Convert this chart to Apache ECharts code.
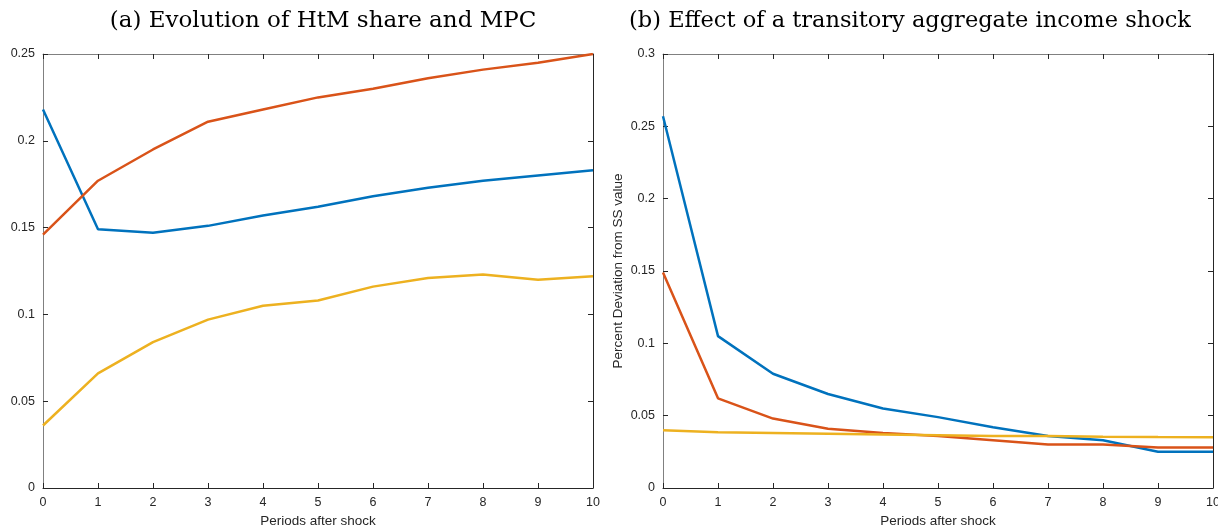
<!DOCTYPE html>
<html>
<head>
<meta charset="utf-8">
<script src="https://cdn.jsdelivr.net/npm/echarts@6/dist/echarts.min.js"></script>
<style>
  html, body { margin: 0; padding: 0; background: #fff; }
  #chart { width: 1218px; height: 527px; }
</style>
</head>
<body>
<div id="chart"></div>
<script>
// periods after the shock (x axis of both panels)
var periods = [0, 1, 2, 3, 4, 5, 6, 7, 8, 9, 10]

// (a) evolution of HtM share and MPC
var leftBlue = [0.218, 0.149, 0.147, 0.151, 0.157, 0.162, 0.168, 0.173, 0.177, 0.180, 0.183]
var leftOrange = [0.146, 0.177, 0.195, 0.211, 0.218, 0.225, 0.230, 0.236, 0.241, 0.245, 0.250]
var leftYellow = [0.036, 0.066, 0.084, 0.097, 0.105, 0.108, 0.116, 0.121, 0.123, 0.120, 0.122]

// (b) effect of a transitory aggregate income shock
var rightBlue = [0.257, 0.105, 0.079, 0.065, 0.055, 0.049, 0.042, 0.036, 0.033, 0.025, 0.025]
var rightOrange = [0.149, 0.062, 0.048, 0.041, 0.038, 0.036, 0.033, 0.030, 0.030, 0.028, 0.028]
var rightYellow = [0.040, 0.0385, 0.038, 0.0375, 0.037, 0.0365, 0.036, 0.036, 0.0355, 0.0352, 0.035]

var titles = ['(a) Evolution of HtM share and MPC', '(b) Effect of a transitory aggregate income shock']
var xName = 'Periods after shock'
var rightYName = 'Percent Deviation from SS value'

var colors = ['#0072BD', '#D95319', '#EDB120']
var axisColor = '#262626'
var labelFont = 'Liberation Sans'

function pairs(ys) {
  return periods.map(function(x, i) { return [x, ys[i]] })
}

function mainX(gridIndex) {
  return {
    type: 'value', gridIndex: gridIndex, min: 0, max: 10, interval: 1,
    name: xName, nameLocation: 'middle', nameGap: 24,
    nameTextStyle: { fontSize: 13.5, color: axisColor, fontFamily: labelFont },
    axisLine: { onZero: false, lineStyle: { color: axisColor, width: 1 } },
    axisTick: { inside: true, length: 5, lineStyle: { color: axisColor } },
    axisLabel: { fontSize: 12.5, color: axisColor, fontFamily: labelFont, margin: 8 },
    splitLine: { show: false }
  }
}

function topX(gridIndex) {
  return {
    type: 'value', gridIndex: gridIndex, min: 0, max: 10, interval: 1, position: 'top',
    axisLine: { onZero: false, lineStyle: { color: '#808080', width: 1 } },
    axisTick: { inside: true, length: 5, lineStyle: { color: axisColor } },
    axisLabel: { show: false },
    splitLine: { show: false }
  }
}

function mainY(gridIndex, max, name) {
  return {
    type: 'value', gridIndex: gridIndex, min: 0, max: max, interval: 0.05,
    name: name, nameLocation: 'middle', nameGap: 38,
    nameTextStyle: { fontSize: 13.5, color: axisColor, fontFamily: labelFont },
    axisLine: { show: true, onZero: false, lineStyle: { color: '#808080', width: 1 } },
    axisTick: { show: true, inside: true, length: 5, lineStyle: { color: axisColor } },
    axisLabel: { fontSize: 12.5, color: axisColor, fontFamily: labelFont, margin: 8 },
    splitLine: { show: false }
  }
}

function rightY(gridIndex, max) {
  return {
    type: 'value', gridIndex: gridIndex, min: 0, max: max, interval: 0.05, position: 'right',
    axisLine: { show: true, onZero: false, lineStyle: { color: axisColor, width: 1 } },
    axisTick: { show: true, inside: true, length: 5, lineStyle: { color: axisColor } },
    axisLabel: { show: false },
    splitLine: { show: false }
  }
}

function line(name, ys, xi, yi, color) {
  return {
    name: name, type: 'line', xAxisIndex: xi, yAxisIndex: yi,
    data: pairs(ys), showSymbol: false, symbol: 'none', animation: false,
    lineStyle: { color: color, width: 2.5 }
  }
}

var chart = echarts.init(document.getElementById('chart'), null, { renderer: 'canvas' })
chart.setOption({
  backgroundColor: '#fff',
  animation: false,
  title: [
    { text: titles[0], left: 318, top: 5, textAlign: 'center',
      textStyle: { fontFamily: 'DejaVu Serif', fontWeight: 'normal', fontSize: 23, color: '#000' } },
    { text: titles[1], left: 905, top: 5, textAlign: 'center',
      textStyle: { fontFamily: 'DejaVu Serif', fontWeight: 'normal', fontSize: 22.5, color: '#000' } }
  ],
  grid: [
    { left: 43, top: 54, width: 550, height: 434, outerBoundsMode: 'none' },
    { left: 663, top: 54, width: 550, height: 434, outerBoundsMode: 'none' }
  ],
  xAxis: [mainX(0), topX(0), mainX(1), topX(1)],
  yAxis: [mainY(0, 0.25, ''), rightY(0, 0.25), mainY(1, 0.3, rightYName), rightY(1, 0.3)],
  series: [
    line('a1', leftBlue, 0, 0, colors[0]),
    line('a2', leftOrange, 0, 0, colors[1]),
    line('a3', leftYellow, 0, 0, colors[2]),
    line('b1', rightBlue, 2, 2, colors[0]),
    line('b2', rightOrange, 2, 2, colors[1]),
    line('b3', rightYellow, 2, 2, colors[2])
  ]
})
</script>
</body>
</html>
